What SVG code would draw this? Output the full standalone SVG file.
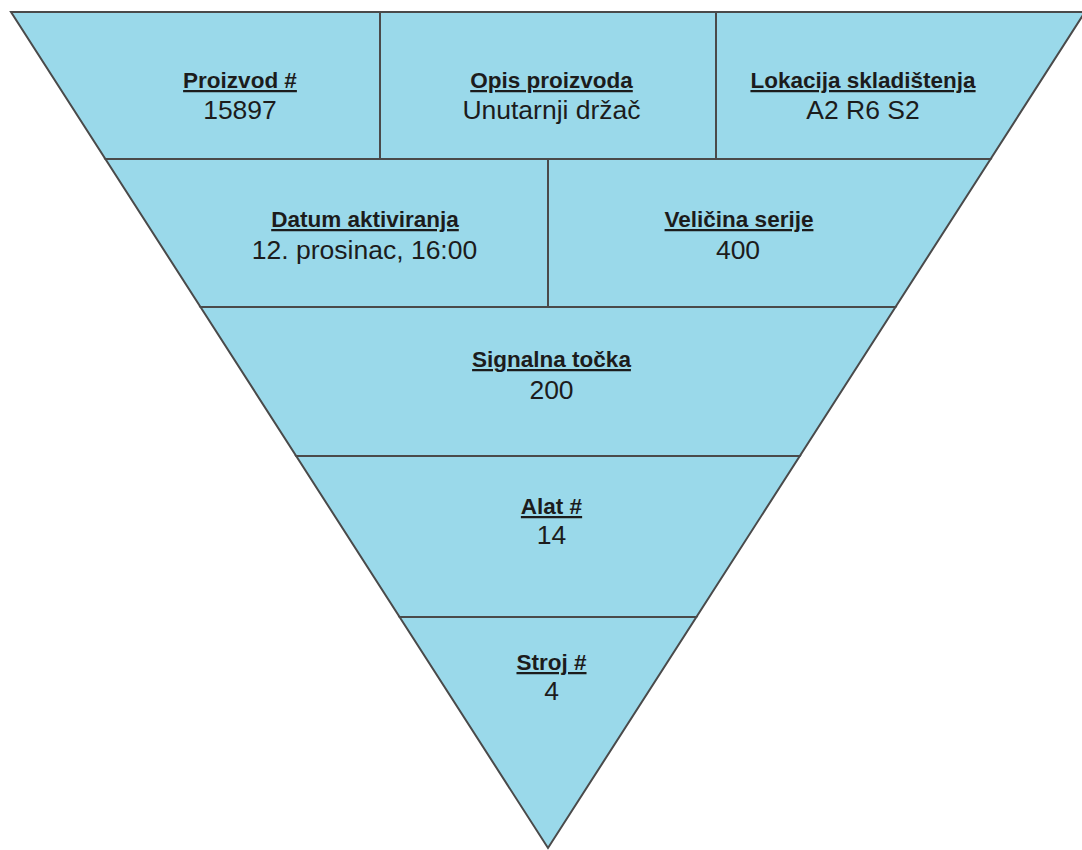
<svg xmlns="http://www.w3.org/2000/svg" width="1082" height="850" viewBox="0 0 1082 850">
<style>
.cell{fill:#9ad9ea;stroke:#4a4a4a;stroke-width:2;stroke-linejoin:miter}
.lbl{font-family:"Liberation Sans",Arial,sans-serif;font-weight:bold;font-size:22.5px;fill:#1c1c1c;text-anchor:middle;text-decoration:underline}
.val{font-family:"Liberation Sans",Arial,sans-serif;font-size:26.5px;fill:#1c1c1c;text-anchor:middle}
</style>
<rect width="1082" height="850" fill="#ffffff"/>
<g id="proizvod">
<polygon class="cell" points="11,12 380,12 380,159 105.4,159"/>
<text class="lbl" x="240" y="88">Proizvod #</text>
<text class="val" x="240" y="119">15897</text>
</g>
<g id="opis">
<polygon class="cell" points="380,12 716,12 716,159 380,159"/>
<text class="lbl" x="551.5" y="88">Opis proizvoda</text>
<text class="val" x="551.5" y="119">Unutarnji držač</text>
</g>
<g id="lokacija">
<polygon class="cell" points="716,12 1085,12 990.6,159 716,159"/>
<text class="lbl" x="863" y="88">Lokacija skladištenja</text>
<text class="val" x="863" y="119">A2 R6 S2</text>
</g>
<g id="datum">
<polygon class="cell" points="105.4,159 548,159 548,307 200.5,307"/>
<text class="lbl" x="365" y="227">Datum aktiviranja</text>
<text class="val" x="364.5" y="259">12. prosinac, 16:00</text>
</g>
<g id="velicina">
<polygon class="cell" points="548,159 990.6,159 895.5,307 548,307"/>
<text class="lbl" x="739" y="227">Veličina serije</text>
<text class="val" x="738" y="259">400</text>
</g>
<g id="signalna">
<polygon class="cell" points="200.5,307 895.5,307 799.8,456 296.2,456"/>
<text class="lbl" x="551.5" y="367">Signalna točka</text>
<text class="val" x="551.5" y="399">200</text>
</g>
<g id="alat">
<polygon class="cell" points="296.2,456 799.8,456 696.4,617 399.6,617"/>
<text class="lbl" x="551.5" y="514">Alat #</text>
<text class="val" x="551.5" y="544">14</text>
</g>
<g id="stroj">
<polygon class="cell" points="399.6,617 696.4,617 548,848"/>
<text class="lbl" x="551.5" y="670">Stroj #</text>
<text class="val" x="551.5" y="700">4</text>
</g>
<g id="connectors"></g>
</svg>
